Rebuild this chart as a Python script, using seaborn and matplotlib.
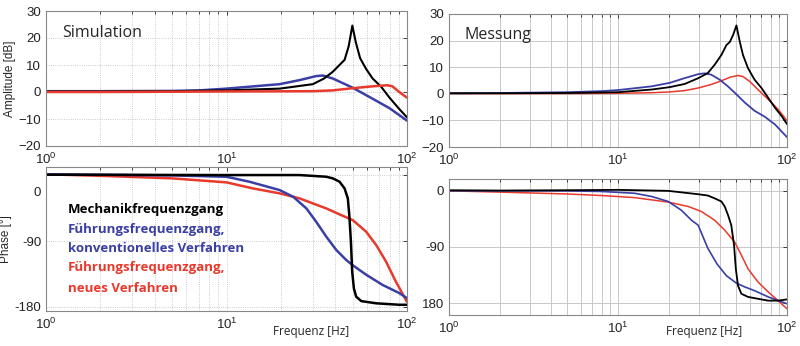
import numpy as np
import pandas as pd
import matplotlib
matplotlib.use("Agg")
import matplotlib.pyplot as plt
import matplotlib.ticker as mticker
import matplotlib.transforms as mtransforms
import seaborn as sns

# ---------------- data ----------------
# Simulation amplitude [dB]
sim_amp_black_f = [1, 2, 5, 10, 19.7, 30.1, 34.7, 38.8, 45.1, 47.5, 49.8, 52.0, 55.0, 59.4, 64.5, 72.0, 80, 90.6, 100]
sim_amp_black_v = [0.2, 0.2, 0.3, 0.6, 1.25, 2.9, 5.0, 7.5, 11.9, 16.9, 24.6, 18.5, 12.5, 8.5, 5.0, 1.9, -2.1, -6.3, -9.4]
sim_amp_blue_f = [1, 2, 5, 7.1, 10, 19.7, 25.4, 31.4, 34.2, 38.8, 50, 64.5, 80, 100]
sim_amp_blue_v = [0.3, 0.3, 0.4, 0.6, 1.25, 2.9, 4.4, 5.9, 6.1, 5.0, 1.6, -2.5, -6.0, -10.6]
sim_amp_red_f = [1, 2, 5, 10, 20, 30, 38.8, 50, 64.5, 78, 83, 90.6, 100]
sim_amp_red_v = [0.0, 0.0, 0.1, 0.2, 0.25, 0.3, 0.6, 1.4, 2.1, 2.5, 2.1, 0.0, -2.1]

# Simulation phase [deg]
sim_ph_black_f = [1, 10, 25.4, 35.7, 38.8, 42.3, 45.1, 47.0, 47.9, 48.9, 49.7, 50.8, 52.3, 55.8, 67.5, 90.6, 100]
sim_ph_black_v = [0.5, 0, 0, -2.3, -4.5, -9.1, -18.2, -31.8, -54.6, -91, -132, -155, -166, -172, -175, -177, -177]
sim_ph_blue_f = [1, 2, 5, 10, 13.4, 19.7, 23.4, 27.7, 31.4, 35.7, 40.5, 46.1, 50, 59.4, 73.3, 90.6, 100]
sim_ph_blue_v = [1, 0.5, -0.5, -2.3, -9.1, -20.5, -29.6, -45.5, -63.7, -84, -102, -116, -123, -136, -150, -161, -168]
sim_ph_red_f = [1, 2, 5, 10, 14, 19.7, 25.4, 30.1, 35.7, 42.3, 50, 59.4, 67.5, 76.5, 86.8, 100]
sim_ph_red_v = [1, -1, -4.5, -10, -18.2, -25, -31.8, -38.7, -45.5, -53.7, -61.4, -77.3, -95.5, -118, -145.5, -173]

# Measurement amplitude [dB]
mes_amp_black_f = [1, 2, 5, 10, 15.8, 20.2, 24.8, 29.9, 34, 37.3, 40.9, 43.8, 45.9, 47.9, 50.2, 52.6, 54.9, 58.8, 64.3, 70.6, 77.4, 84.8, 92.8, 100]
mes_amp_black_v = [0.2, 0.2, 0.3, 0.6, 1.6, 2.5, 3.7, 5.9, 7.8, 10.9, 14.6, 18.3, 19.5, 22, 25.7, 19.5, 14.6, 9.6, 5.3, 2.2, -1.5, -5.2, -8.3, -11.4]
mes_amp_blue_f = [1, 2, 5, 8, 10, 15.8, 20.2, 24.8, 29.9, 32.6, 35.6, 40, 44.7, 50.2, 56.3, 64.3, 73.8, 84.8, 100]
mes_amp_blue_v = [0.2, 0.3, 0.6, 1.0, 1.4, 2.8, 4.1, 5.9, 7.4, 7.7, 7.2, 5.3, 2.8, -0.2, -3.3, -6.4, -8.6, -11.5, -16.3]
mes_amp_red_f = [1, 2, 5, 10, 15.8, 20.2, 24.8, 29.9, 35.6, 40.9, 45.9, 51.3, 54.9, 60.0, 67.3, 77.4, 88.5, 100]
mes_amp_red_v = [0.1, 0.1, 0.1, 0.2, 0.4, 0.7, 1.2, 2.2, 3.5, 4.9, 6.2, 6.9, 6.5, 4.7, 1.6, -2.1, -5.8, -10.1]

# Measurement phase [deg]
mes_ph_black_f = [1, 2, 5, 10, 19.8, 29.8, 34, 37.3, 40.9, 42.8, 44.8, 46.8, 48.6, 49.8, 51.3, 53.7, 58.8, 67.3, 77.4, 88.5, 100]
mes_ph_black_v = [1.0, 0.5, 1.0, 1.6, 0, -5.4, -7.5, -12, -17, -25, -39, -55, -87, -125, -152, -165, -170, -173, -176, -176, -174]
mes_ph_blue_f = [1, 2, 5, 8, 12.5, 15.8, 19.8, 23.7, 27.2, 29.8, 34, 38.5, 43.8, 50.2, 56.3, 64.3, 77.4, 100]
mes_ph_blue_v = [0, 0, 0, -1, -3.8, -9, -17, -31, -47, -55, -92, -117, -136, -148, -154, -160, -170, -181]
mes_ph_red_f = [1, 2, 5, 8, 12.5, 19.8, 26, 31.1, 37.3, 42.8, 49, 53.7, 58.8, 67.3, 77.4, 88.5, 100]
mes_ph_red_v = [0, -2, -5, -7.5, -10.8, -18, -25, -33, -47, -63, -82, -103, -125, -146, -162, -176, -189]

amp_ticks = [-20, -10, 0, 10, 20, 30]
ph_ticks = [0, -90, -180]
sim_ph_labels = ["0", "-90", "-180"]
mes_ph_labels = ["0", "-90", "180"]
legend_lines = ["Mechanikfrequenzgang", "Führungsfrequenzgang,", "konventionelles Verfahren",
                "Führungsfrequenzgang,", "neues Verfahren"]

BLACK = "#000000"
BLUE = "#3a3fa6"
RED = "#e8392c"

sns.set_theme(style="white")
plt.rcParams["font.family"] = ["Liberation Sans", "DejaVu Sans"]
plt.rcParams["mathtext.default"] = "regular"

fig = plt.figure(figsize=(8.0, 3.46), dpi=100)
ax_tl = fig.add_axes([46 / 800, 1 - 146 / 346, 361 / 800, 135 / 346])
ax_tr = fig.add_axes([449 / 800, 1 - 147 / 346, 338 / 800, 133 / 346])
ax_bl = fig.add_axes([46 / 800, 1 - 311 / 346, 361 / 800, 144 / 346])
ax_br = fig.add_axes([449 / 800, 1 - 315 / 346, 338 / 800, 136 / 346])


def draw(ax, f, v, color, lw):
    df = pd.DataFrame({"f": f, "v": v})
    sns.lineplot(data=df, x="f", y="v", ax=ax, color=color, lw=lw, sort=False,
                 estimator=None, solid_joinstyle="round", solid_capstyle="round")


def style(ax, sim):
    ax.set_xscale("log")
    ax.set_xlim(1, 100)
    ax.xaxis.set_major_locator(mticker.LogLocator(base=10))
    ax.xaxis.set_minor_locator(mticker.LogLocator(base=10, subs=np.arange(2, 10)))
    ax.xaxis.set_minor_formatter(mticker.NullFormatter())
    ax.set_xlabel("")
    ax.set_ylabel("")
    ax.tick_params(axis="both", which="both", direction="in", top=True, right=True,
                   labelsize=9.5, colors="#222222", length=3, width=0.6)
    ax.tick_params(axis="both", which="minor", length=2)
    ax.tick_params(axis="x", pad=4)
    for s in ax.spines.values():
        s.set_color("#888888")
        s.set_linewidth(0.8)
    if sim:
        ax.grid(True, which="both", axis="x", ls=":", lw=0.6, color="#bbbbbb")
        ax.grid(True, which="major", axis="y", ls=":", lw=0.6, color="#bbbbbb")
    else:
        ax.grid(True, which="both", axis="x", ls="-", lw=0.7, color="#c8c8c8")
        ax.grid(True, which="major", axis="y", ls="-", lw=0.7, color="#c8c8c8")
    ax.set_axisbelow(True)


# Simulation amplitude
draw(ax_tl, sim_amp_blue_f, sim_amp_blue_v, BLUE, 1.8)
draw(ax_tl, sim_amp_black_f, sim_amp_black_v, BLACK, 1.5)
draw(ax_tl, sim_amp_red_f, sim_amp_red_v, RED, 1.8)
style(ax_tl, True)
ax_tl.set_ylim(-20, 30)
ax_tl.set_yticks(amp_ticks)
ax_tl.set_ylabel("Amplitude [dB]", fontsize=8.5, labelpad=2)
ax_tl.text(0.045, 0.84, "Simulation", transform=ax_tl.transAxes, fontsize=11.5,
           family=["Open Sans", "DejaVu Sans"], va="center", ha="left")

# Measurement amplitude
draw(ax_tr, mes_amp_red_f, mes_amp_red_v, RED, 1.1)
draw(ax_tr, mes_amp_blue_f, mes_amp_blue_v, BLUE, 1.3)
draw(ax_tr, mes_amp_black_f, mes_amp_black_v, BLACK, 1.3)
style(ax_tr, False)
ax_tr.set_ylim(-20, 30)
ax_tr.set_yticks(amp_ticks)
ax_tr.text(0.045, 0.84, "Messung", transform=ax_tr.transAxes, fontsize=11.5,
           family=["Open Sans", "DejaVu Sans"], va="center", ha="left")

# Simulation phase
draw(ax_bl, sim_ph_red_f, sim_ph_red_v, RED, 1.8)
draw(ax_bl, sim_ph_blue_f, sim_ph_blue_v, BLUE, 1.8)
draw(ax_bl, sim_ph_black_f, sim_ph_black_v, BLACK, 1.8)
style(ax_bl, True)
ax_bl.set_ylim(-185.5, 11)
ax_bl.set_yticks(ph_ticks)
ax_bl.set_yticklabels(sim_ph_labels)
# the "0" label sits a little below its grid line in the reference
lbl0 = ax_bl.get_yticklabels()[0]
lbl0.set_transform(lbl0.get_transform() + mtransforms.ScaledTranslation(0, -16 / 100, fig.dpi_scale_trans))
ax_bl.set_ylabel("Phase [°]", fontsize=8.5, labelpad=2)
ax_bl.text(0.734, -0.14, "Frequenz [Hz]", transform=ax_bl.transAxes, fontsize=8.5,
           ha="center", va="center", family=["Open Sans", "DejaVu Sans"])
leg_colors = [BLACK, BLUE, BLUE, RED, RED]
leg_y = [210, 229, 249, 268, 288]
for txt, c, yy in zip(legend_lines, leg_colors, leg_y):
    fig.text(68 / 800, 1 - yy / 346, txt, color=c, fontsize=9.5, fontweight="bold",
             family=["Open Sans", "DejaVu Sans"], va="center", ha="left")

# Measurement phase
draw(ax_br, mes_ph_red_f, mes_ph_red_v, RED, 1.1)
draw(ax_br, mes_ph_blue_f, mes_ph_blue_v, BLUE, 1.2)
draw(ax_br, mes_ph_black_f, mes_ph_black_v, BLACK, 1.3)
style(ax_br, False)
ax_br.set_ylim(-199, 19)
ax_br.set_yticks(ph_ticks)
ax_br.set_yticklabels(mes_ph_labels)
ax_br.text(0.754, -0.125, "Frequenz [Hz]", transform=ax_br.transAxes, fontsize=8.5,
           ha="center", va="center", family=["Open Sans", "DejaVu Sans"])

fig.savefig("out.png", dpi=100, facecolor="white")
